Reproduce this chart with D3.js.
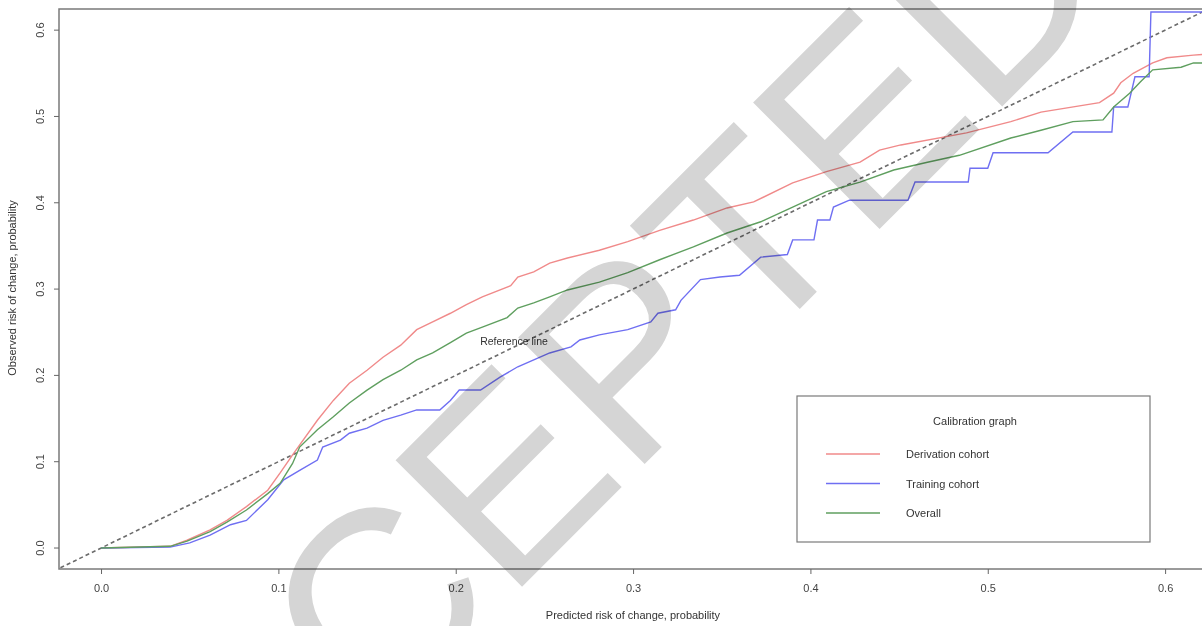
<!DOCTYPE html>
<html>
<head>
<meta charset="utf-8">
<script src="https://cdn.jsdelivr.net/npm/d3@7"></script>
<style>
  body { margin: 0; background: white; }
  svg { display: block; font-family: "Liberation Sans", Arial, sans-serif; }
</style>
</head>
<body>
<div id="chart"></div>
<script>
const xTicks = [0, 0.1, 0.2, 0.3, 0.4, 0.5, 0.6]
const yTicks = [0, 0.1, 0.2, 0.3, 0.4, 0.5, 0.6]

// derivation cohort (red)
const derivation = [
  [0,0],[0.039,0.002],[0.0485,0.009],[0.0615,0.021],[0.071,0.032],[0.082,0.048],
  [0.094,0.067],[0.101,0.087],[0.108,0.108],[0.122,0.148],[0.131,0.171],[0.140,0.191],
  [0.150,0.206],[0.159,0.221],[0.169,0.235],[0.178,0.253],[0.187,0.262],[0.197,0.272],
  [0.206,0.282],[0.215,0.291],[0.231,0.304],[0.235,0.314],[0.244,0.320],[0.253,0.330],
  [0.263,0.336],[0.281,0.345],[0.297,0.355],[0.315,0.368],[0.334,0.380],[0.353,0.394],
  [0.368,0.401],[0.390,0.423],[0.409,0.436],[0.428,0.447],[0.439,0.461],[0.451,0.467],
  [0.488,0.481],[0.513,0.494],[0.530,0.505],[0.563,0.516],[0.571,0.527],[0.575,0.539],
  [0.582,0.550],[0.593,0.562],[0.601,0.568],[0.616,0.571],[0.622,0.572]
]

// training cohort (blue)
const training = [
  [0,0],[0.039,0.001],[0.050,0.006],[0.0615,0.015],[0.073,0.027],[0.082,0.032],
  [0.094,0.056],[0.103,0.079],[0.112,0.090],[0.122,0.102],[0.125,0.117],[0.135,0.125],
  [0.140,0.133],[0.150,0.139],[0.159,0.148],[0.169,0.154],[0.178,0.160],[0.191,0.160],
  [0.197,0.171],[0.202,0.183],[0.214,0.183],[0.225,0.198],[0.235,0.210],[0.244,0.218],
  [0.253,0.226],[0.265,0.233],[0.270,0.241],[0.281,0.247],[0.297,0.253],[0.310,0.262],
  [0.314,0.272],[0.324,0.276],[0.327,0.287],[0.338,0.311],[0.349,0.314],[0.360,0.316],
  [0.372,0.337],[0.387,0.340],[0.390,0.357],[0.402,0.357],[0.404,0.380],[0.411,0.380],
  [0.413,0.395],[0.422,0.403],[0.455,0.403],[0.459,0.424],[0.489,0.424],[0.490,0.440],
  [0.500,0.440],[0.503,0.458],[0.534,0.458],[0.548,0.482],[0.570,0.482],[0.571,0.511],
  [0.579,0.511],[0.583,0.546],[0.591,0.546],[0.592,0.621],[0.622,0.621]
]

// overall (green)
const overall = [
  [0,0],[0.039,0.002],[0.0485,0.008],[0.0615,0.019],[0.071,0.030],[0.082,0.044],
  [0.094,0.063],[0.101,0.075],[0.108,0.098],[0.112,0.117],[0.122,0.137],[0.131,0.152],
  [0.140,0.168],[0.150,0.183],[0.159,0.195],[0.169,0.206],[0.178,0.218],[0.187,0.226],
  [0.197,0.238],[0.206,0.249],[0.215,0.256],[0.229,0.267],[0.235,0.278],[0.244,0.284],
  [0.253,0.291],[0.263,0.299],[0.281,0.308],[0.297,0.319],[0.315,0.334],[0.334,0.349],
  [0.353,0.365],[0.372,0.378],[0.390,0.395],[0.409,0.413],[0.428,0.424],[0.447,0.438],
  [0.466,0.447],[0.484,0.455],[0.513,0.475],[0.530,0.484],[0.548,0.494],[0.565,0.496],
  [0.571,0.511],[0.580,0.527],[0.586,0.540],[0.593,0.554],[0.609,0.557],[0.616,0.562],
  [0.622,0.562]
]

const seriesNames = ['Derivation cohort', 'Training cohort', 'Overall']
const seriesColors = ['#f08a8a', '#6f6ff2', '#5f9f5f']

const width = 1202, height = 626

const svg = d3.select('#chart').append('svg')
  .attr('width', width)
  .attr('height', height)

const x = d3.scaleLinear().domain([-0.0237, 0.6225]).range([59, 1205])
const y = d3.scaleLinear().domain([-0.0243, 0.6245]).range([569, 9])

const plot = svg.append('g')

plot.append('defs').append('clipPath').attr('id', 'clip')
  .append('rect').attr('x', 59).attr('y', 9).attr('width', 1146).attr('height', 560)

// reference line
plot.append('line')
  .attr('clip-path', 'url(#clip)')
  .attr('x1', x(-0.03)).attr('y1', y(-0.03))
  .attr('x2', x(0.7)).attr('y2', y(0.7))
  .attr('stroke', '#6b6b6b')
  .attr('stroke-width', 1.6)
  .attr('stroke-dasharray', '4,3')

const line = d3.line().x(d => x(d[0])).y(d => y(d[1]))

const allSeries = [derivation, training, overall]
plot.selectAll('path.series')
  .data(allSeries)
  .enter()
  .append('path')
  .attr('class', 'series')
  .attr('clip-path', 'url(#clip)')
  .attr('d', line)
  .attr('fill', 'none')
  .attr('stroke', (d, i) => seriesColors[i])
  .attr('stroke-width', 1.4)

// frame
plot.append('rect')
  .attr('x', 59).attr('y', 9).attr('width', 1146).attr('height', 560)
  .attr('fill', 'none').attr('stroke', '#7a7a7a').attr('stroke-width', 1.5)

// axes
const xAxis = svg.append('g').attr('transform', 'translate(0,569)')
  .call(d3.axisBottom(x).tickValues(xTicks).tickFormat(d3.format('.1f')).tickSize(5).tickPadding(10))
xAxis.select('.domain').remove()
xAxis.selectAll('line').attr('stroke', '#666')
xAxis.selectAll('text').attr('fill', '#444').attr('font-size', 11)
  .attr('font-family', '"Liberation Sans", Arial, sans-serif')

const yAxis = svg.append('g').attr('transform', 'translate(59,0)')
  .call(d3.axisLeft(y).tickValues(yTicks).tickFormat(d3.format('.1f')).tickSize(5).tickPadding(10))
yAxis.select('.domain').remove()
yAxis.selectAll('line').attr('stroke', '#666')
yAxis.selectAll('text')
  .attr('fill', '#444').attr('font-size', 11)
  .attr('font-family', '"Liberation Sans", Arial, sans-serif')
  .attr('text-anchor', 'middle')
  .attr('transform', d => `rotate(-90, -19, ${y(d)})`)
  .attr('x', -19)
  .attr('y', d => y(d))
  .attr('dy', '0.35em')
yAxis.selectAll('.tick').attr('transform', null)
yAxis.selectAll('.tick line').attr('y1', d => y(d)).attr('y2', d => y(d))

svg.append('text')
  .text('Predicted risk of change, probability')
  .attr('x', 633).attr('y', 619)
  .attr('text-anchor', 'middle').attr('font-size', 11).attr('fill', '#333')

svg.append('text')
  .text('Observed risk of change, probability')
  .attr('transform', 'translate(16,288) rotate(-90)')
  .attr('text-anchor', 'middle').attr('font-size', 11).attr('fill', '#333')

svg.append('text')
  .text('Reference line')
  .attr('x', 514).attr('y', 345)
  .attr('text-anchor', 'middle').attr('font-size', 10.5).attr('fill', '#333')

// legend
const leg = svg.append('g')
leg.append('rect')
  .attr('x', 797).attr('y', 396).attr('width', 353).attr('height', 146)
  .attr('fill', 'white').attr('stroke', '#7a7a7a').attr('stroke-width', 1.2)
leg.append('text')
  .text('Calibration graph')
  .attr('x', 975).attr('y', 425)
  .attr('text-anchor', 'middle').attr('font-size', 11).attr('fill', '#333')

const items = leg.selectAll('g.item')
  .data(seriesNames)
  .enter()
  .append('g')
  .attr('class', 'item')
  .attr('transform', (d, i) => `translate(0, ${454 + 29.5 * i})`)
items.append('line')
  .attr('x1', 826).attr('x2', 880)
  .attr('stroke', (d, i) => seriesColors[i]).attr('stroke-width', 1.4)
items.append('text')
  .text(d => d)
  .attr('x', 906).attr('y', 4)
  .attr('font-size', 11).attr('fill', '#333')

// watermark
svg.append('text')
  .text('ACCEPTED')
  .attr('transform', 'translate(555,425) rotate(-45)')
  .attr('text-anchor', 'middle')
  .attr('dy', '0.35em')
  .attr('font-size', 260)
  .attr('fill', '#d5d5d5')
  .style('mix-blend-mode', 'multiply')
</script>
</body>
</html>
